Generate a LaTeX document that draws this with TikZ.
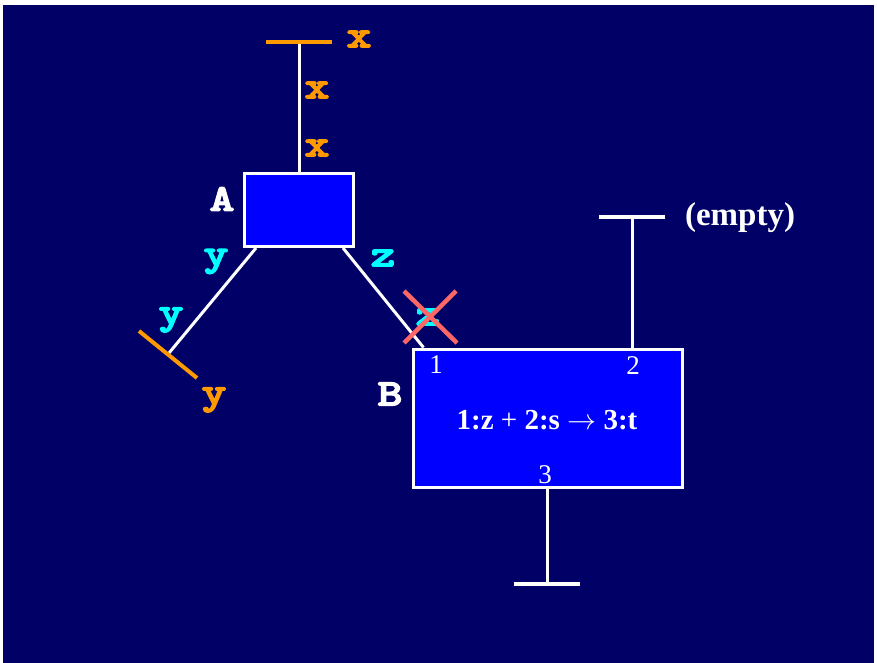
\RequirePackage{fix-cm}
\documentclass[tikz,border=0pt]{standalone}
\usepackage{graphicx}
\usepackage{fontspec}
\setmainfont{Liberation Serif}
\newfontfamily\courb{lmmonolt10-bold.otf}[FakeBold=3]
\newcommand\cwide[1]{\scalebox{1.25}[1]{#1}}
\definecolor{navy}{RGB}{0,0,102}
\definecolor{boxblue}{RGB}{0,0,255}
\definecolor{lorange}{RGB}{255,153,0}
\definecolor{lcyan}{RGB}{0,255,255}
\definecolor{lred}{RGB}{255,102,102}
\tikzset{
  wire/.style={draw=white, line width=3pt},
  obar/.style={draw=lorange, line width=4pt},
  wbar/.style={draw=white, line width=4pt},
  opbox/.style={draw=white, line width=3pt, fill=boxblue, inner sep=0pt},
  tt/.style={font=\courb\fontsize{38}{38}\selectfont, inner sep=0pt},
  olab/.style={tt, text=lorange},
  clab/.style={tt, text=lcyan},
  wlab/.style={tt, text=white},
  port/.style={font=\fontsize{27}{27}\selectfont, text=white, inner sep=0pt},
  serifb/.style={font=\bfseries\fontsize{29}{29}\selectfont, text=white, inner sep=0pt},
  emptyt/.style={font=\bfseries\fontsize{33}{33}\selectfont, text=white, inner sep=0pt},
  cross/.style={draw=lred, line width=4.5pt}
}
\begin{document}
\begin{tikzpicture}[x=1pt,y=-1pt]
\useasboundingbox (0,0) rectangle (877,663);
\fill[white] (0,0) rectangle (877,663);
\fill[navy] (3,5) rectangle (874,663);

% boxes
\node[opbox, minimum width=109pt, minimum height=73pt] (A) at (299,210) {};
\node[opbox, minimum width=269pt, minimum height=138.5pt] (B) at (548,418.25) {};

% coordinates for free ends
\coordinate (xend) at (299,42);
\coordinate (xbl) at (266,42);
\coordinate (xbr) at (332,42);
\coordinate (yend) at (169,353);
\coordinate (ybl) at (139,331);
\coordinate (ybr) at (197,378);
\coordinate (eend) at (632,217);
\coordinate (ebl) at (599,217);
\coordinate (ebr) at (665,217);
\coordinate (tend) at (547.5,583.5);
\coordinate (tbl) at (514,583.5);
\coordinate (tbr) at (580,583.5);

% connectors
\draw[wire] (A.north) -- (xend);
\draw[obar] (xbl) -- (xbr);
\draw[wire] ([xshift=13pt]A.south west) -- (yend);
\draw[obar] (ybl) -- (ybr);
\draw[wire] ([xshift=-12pt]A.south east) -- ([xshift=11.5pt]B.north west);
\draw[wire] ([xshift=84pt]B.north) -- (eend);
\draw[wbar] (ebl) -- (ebr);
\draw[wire] ([xshift=-0.5pt]B.south) -- (tend);
\draw[wbar] (tbl) -- (tbr);

% redraw boxes on top
\node[opbox, minimum width=109pt, minimum height=73pt] at (A) {};
\node[opbox, minimum width=269pt, minimum height=138.5pt] at (B) {};

% labels
\node[wlab] (lA) at (222,199) {\cwide{A}};
\node[wlab] (lB) at (390,394) {\cwide{B}};
\node[olab] (x1) at (359,39) {\cwide{x}};
\node[olab] (x2) at (317,90) {\cwide{x}};
\node[olab] (x3) at (317,148) {\cwide{x}};
\node[clab] (y1) at (216,261.5) {\cwide{y}};
\node[clab] (y2) at (171,320) {\cwide{y}};
\node[olab] (y3) at (214,400) {\cwide{y}};
\node[clab] (z1) at (383,258) {\cwide{z}};
\node[clab] (z2) at (428,317) {\cwide{z}};
\draw[cross] (404,291) -- (457,343);
\draw[cross] (456,291) -- (404,343);

\node[port] (p1) at (436,365) {1};
\node[port] (p2) at (633,366) {2};
\node[port] (p3) at (545,475) {3};
\node[serifb] (rule) at (547,420) {1:z {\mdseries +} 2:s $\rightarrow$ 3:t};
\node[emptyt] (empty) at (740,218) {(empty)};
\end{tikzpicture}
\end{document}
